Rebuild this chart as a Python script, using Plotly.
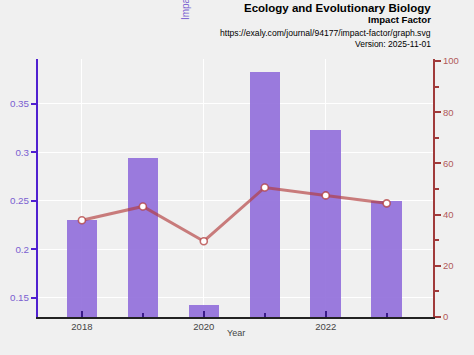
import plotly.graph_objects as go

years = [2018, 2019, 2020, 2021, 2022, 2023]
impact_factor = [0.230, 0.294, 0.142, 0.383, 0.323, 0.250]
percentile = [37.8, 43.2, 29.6, 50.6, 47.5, 44.4]
x_ticks = [2018, 2020, 2022]
left_ticks = [0.15, 0.2, 0.25, 0.3, 0.35]
left_tick_text = ["0.15", "0.2", "0.25", "0.3", "0.35"]
right_ticks = [0, 20, 40, 60, 80, 100]

fig = go.Figure()
fig.add_trace(go.Bar(
    x=years, y=impact_factor, width=0.5,
    marker=dict(color="rgba(147,112,219,0.92)", line=dict(width=0)),
    yaxis="y", showlegend=False,
))
fig.add_trace(go.Scatter(
    x=years, y=percentile, mode="lines+markers",
    line=dict(color="rgba(178,60,60,0.65)", width=3),
    marker=dict(symbol="circle", size=7, color="white",
                line=dict(color="rgba(178,60,60,0.75)", width=1.6)),
    yaxis="y2", showlegend=False,
))

fig.update_layout(
    width=474, height=355,
    paper_bgcolor="#f0f0f0", plot_bgcolor="#f0f0f0",
    margin=dict(l=38, r=41, t=59, b=38, autoexpand=False),
    font=dict(family="Liberation Sans, Arial, sans-serif", size=9, color="#444"),
    bargap=0,
    xaxis=dict(
        automargin=False,
        range=[2017.28, 2023.76],
        tickmode="array", tickvals=x_ticks, ticktext=[str(v) for v in x_ticks],
        ticks="inside", ticklen=6, tickwidth=2, tickcolor="#3a1a8a",
        minor=dict(tickmode="array", tickvals=years, ticks="inside", ticklen=4,
                   tickwidth=2, tickcolor="#3a1a8a", showgrid=False),
        showgrid=True, gridcolor="white", gridwidth=1,
        showline=True, linecolor="#222", linewidth=2,
        tickfont=dict(size=9.5, color="#444"),
        zeroline=False,
    ),
    yaxis=dict(
        automargin=False,
        range=[0.13, 0.396],
        tickmode="array", tickvals=left_ticks, ticktext=left_tick_text,
        ticks="outside", ticklen=5, tickwidth=2, tickcolor="#5020d0",
        showgrid=True, gridcolor="white", gridwidth=1,
        showline=True, linecolor="#5020d0", linewidth=2,
        tickfont=dict(size=9.8, color="#7a60d0"),
        zeroline=False,
    ),
    yaxis2=dict(
        automargin=False,
        range=[0, 100.8], overlaying="y", side="right",
        tickmode="array", tickvals=right_ticks,
        ticks="outside", ticklen=6, tickwidth=2, tickcolor="#a03a3a",
        minor=dict(tickmode="array", tickvals=[10, 30, 50, 70, 90], ticks="outside",
                   ticklen=4, tickwidth=2, tickcolor="#a03a3a", showgrid=False),
        showgrid=False, showline=True, linecolor="#a03a3a", linewidth=2,
        tickfont=dict(size=9.5, color="#b05a5a"),
        zeroline=False,
    ),
    annotations=[
        dict(text="<b>Ecology and Evolutionary Biology</b>", xref="paper", yref="paper",
             x=1.0, y=1.198, xanchor="right", yanchor="middle", showarrow=False,
             font=dict(size=11.5, color="black")),
        dict(text="<b>Impact Factor</b>", xref="paper", yref="paper",
             x=1.0, y=1.153, xanchor="right", yanchor="middle", showarrow=False,
             font=dict(size=9.6, color="black")),
        dict(text="https://exaly.com/journal/94177/impact-factor/graph.svg", xref="paper", yref="paper",
             x=1.0, y=1.101, xanchor="right", yanchor="middle", showarrow=False,
             font=dict(size=8.6, color="black")),
        dict(text="Version: 2025-11-01", xref="paper", yref="paper",
             x=1.0, y=1.058, xanchor="right", yanchor="middle", showarrow=False,
             font=dict(size=8.5, color="black")),
        dict(text="Impact Factor", xref="paper", yref="paper",
             x=0.372, y=1.143, xanchor="center", yanchor="bottom", textangle=-90,
             showarrow=False, font=dict(size=10, color="#7a60d0")),
        dict(text="Year", xref="paper", yref="paper",
             x=0.5, y=-0.062, xanchor="center", yanchor="middle",
             showarrow=False, font=dict(size=9, color="#444")),
    ],
)

fig.write_html(
    "out.html",
    config={"displayModeBar": False},
    post_script="document.body.style.margin='0';document.body.style.background='#f0f0f0';",
)
